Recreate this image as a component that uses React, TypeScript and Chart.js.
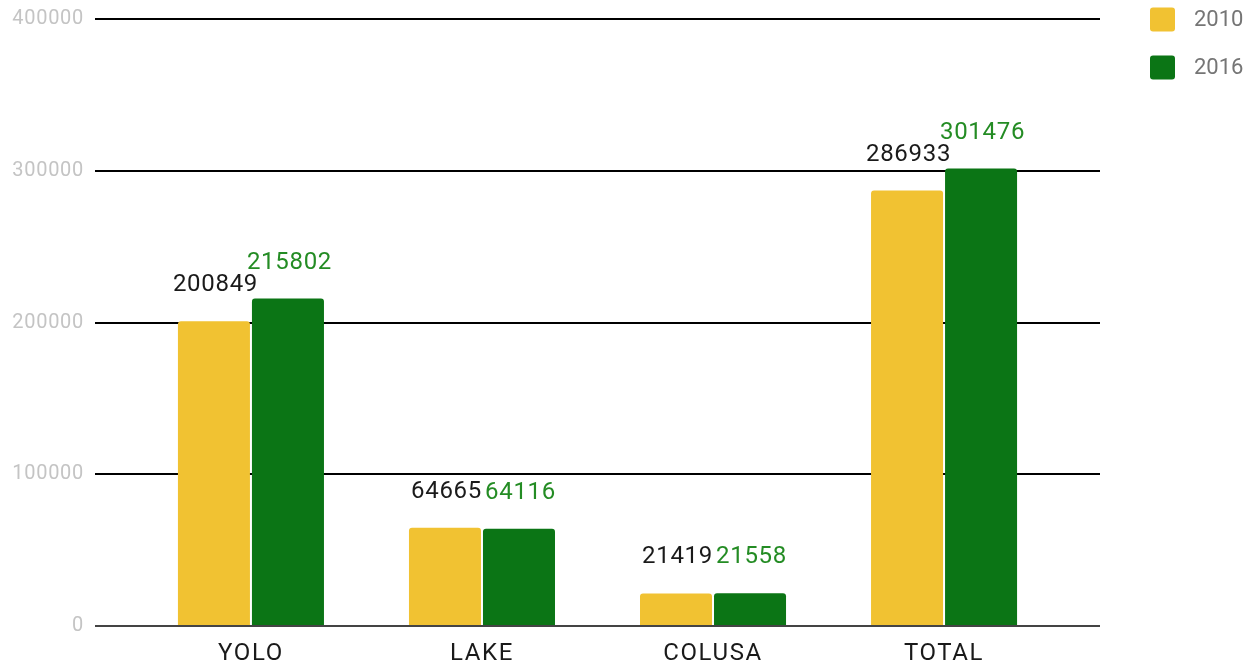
import React, { useEffect, useRef } from "react";
import { Chart, registerables } from "chart.js";

Chart.register(...registerables);

const categories = ["YOLO", "LAKE", "COLUSA", "TOTAL"];
const seriesNames = ["2010", "2016"];
const values2010 = [200849, 64665, 21419, 286933];
const values2016 = [215802, 64116, 21558, 301476];
const yTicks = [0, 100000, 200000, 300000, 400000];

const barColors = ["#F1C232", "#0B7515"];
const labelColors = ["#1a1a1a", "#248c24"];
const FONT = "Roboto";

function withLetterSpacing(scale: any, spacing: string) {
  if (scale.__lsPatched) return;
  const orig = scale.drawLabels;
  scale.drawLabels = function (area: any) {
    const ctx = this.ctx as any;
    const prev = ctx.letterSpacing;
    ctx.letterSpacing = spacing;
    orig.call(this, area);
    ctx.letterSpacing = prev || "0px";
  };
  scale.__lsPatched = true;
}

const valueLabelPlugin = {
  id: "valueLabels",
  afterDatasetsDraw(chart: any) {
    const ctx = chart.ctx;
    ctx.save();
    ctx.font = `24px ${FONT}`;
    (ctx as any).letterSpacing = "0.7px";
    ctx.textAlign = "center";
    ctx.textBaseline = "alphabetic";
    chart.data.datasets.forEach((ds: any, di: number) => {
      const meta = chart.getDatasetMeta(di);
      ctx.fillStyle = labelColors[di];
      meta.data.forEach((el: any, i: number) => {
        const v = ds.data[i].y;
        ctx.fillText(String(v), el.x + 1.5, el.y - 30);
      });
    });
    (ctx as any).letterSpacing = "0px";
    ctx.restore();
  },
};

const legendPlugin = {
  id: "sideLegend",
  afterDraw(chart: any) {
    const ctx = chart.ctx;
    const left = chart.chartArea.right + 50;
    ctx.save();
    chart.data.datasets.forEach((ds: any, di: number) => {
      const top = 7.5 + di * 48;
      ctx.fillStyle = ds.backgroundColor;
      ctx.beginPath();
      if ((ctx as any).roundRect) {
        (ctx as any).roundRect(left, top, 25, 24, 3);
      } else {
        ctx.rect(left, top, 25, 24);
      }
      ctx.fill();
      ctx.fillStyle = "#757575";
      ctx.font = `22px ${FONT}`;
      ctx.textAlign = "left";
      ctx.textBaseline = "middle";
      ctx.fillText(ds.label, left + 44, top + 13);
    });
    ctx.restore();
  },
};

export default function App() {
  const canvasRef = useRef<HTMLCanvasElement | null>(null);

  useEffect(() => {
    if (!canvasRef.current) return;
    const toPoints = (arr: number[]) => arr.map((v, i) => ({ x: i, y: v }));
    const chart = new Chart(canvasRef.current, {
      type: "bar",
      data: {
        datasets: [
          {
            label: seriesNames[0],
            data: toPoints(values2010),
            backgroundColor: barColors[0],
            borderRadius: 3,
            borderSkipped: "bottom",
            categoryPercentage: 0.6407,
            barPercentage: 0.973,
          },
          {
            label: seriesNames[1],
            data: toPoints(values2016),
            backgroundColor: barColors[1],
            borderRadius: 3,
            borderSkipped: "bottom",
            categoryPercentage: 0.6407,
            barPercentage: 0.973,
          },
        ],
      },
      options: {
        animation: false,
        responsive: true,
        maintainAspectRatio: false,
        layout: { padding: { top: 19, right: 149, bottom: 0, left: 0 } },
        plugins: {
          legend: { display: false },
          tooltip: { enabled: false },
        },
        scales: {
          x: {
            type: "linear",
            min: -0.675,
            max: categories.length - 1 + 0.675,
            offset: false,
            grid: { display: false, drawTicks: false, offset: false },
            border: { display: false },
            afterBuildTicks: (scale: any) => {
              scale.ticks = categories.map((_, i) => ({ value: i }));
            },
            afterFit: (scale: any) => {
              scale.height = 39;
              withLetterSpacing(scale, "1.6px");
            },
            ticks: {
              padding: 15.5,
              color: "#1a1a1a",
              font: { family: FONT, size: 24, lineHeight: 1 },
              callback: (value: any) => categories[value] ?? "",
            },
          },
          y: {
            min: 0,
            max: 400000,
            afterBuildTicks: (scale: any) => {
              scale.ticks = yTicks.map((v) => ({ value: v }));
            },
            afterFit: (scale: any) => {
              scale.width = 95;
              withLetterSpacing(scale, "0.7px");
            },
            grid: {
              drawTicks: true,
              tickLength: 8,
              tickColor: "rgba(0,0,0,0)",
              color: (c: any) => (c.tick && c.tick.value === 0 ? "#444444" : "#000000"),
              lineWidth: 2,
            },
            border: { display: false },
            ticks: {
              padding: 3,
              color: "#c4c4c4",
              font: { family: FONT, size: 20 },
              callback: (value: any) => String(value),
            },
          },
        },
      },
      plugins: [valueLabelPlugin, legendPlugin],
    } as any);
    return () => chart.destroy();
  }, []);

  return (
    <div style={{ position: "absolute", left: 0, top: 0, width: 1249, height: 665 }}>
      <canvas ref={canvasRef} />
    </div>
  );
}
